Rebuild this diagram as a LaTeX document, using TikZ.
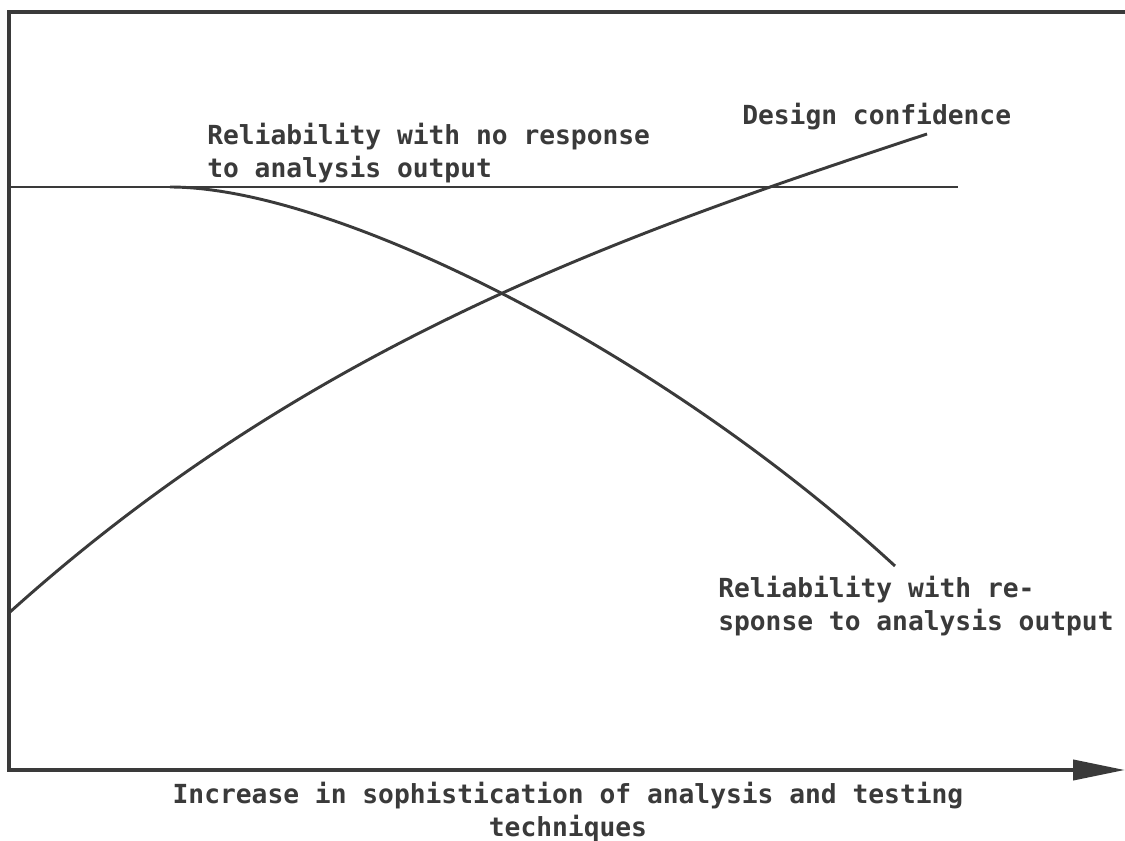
\documentclass[tikz,border=0pt]{standalone}
\usepackage{fontspec}
\setmonofont{DejaVu Sans Mono}
\usetikzlibrary{arrows.meta}
\definecolor{ink}{RGB}{58,58,58}
\tikzset{
  frame/.style={
    line width=3pt,
    draw=ink,
  },
  curve/.style={
    line width=2.2pt,
    draw=ink,
  },
  lbl/.style={
    font=\fontsize{19.7}{24.75}\selectfont\ttfamily\bfseries,
    text=ink,
    inner sep=0pt,
    align=left
  }
}

\begin{document}
\begin{tikzpicture}[x=0.75pt,y=-0.75pt]
        \useasboundingbox (0,0) rectangle (1125,841);
        \coordinate (tl) at (9,12);
        \coordinate (tr) at (1125,12);
        \coordinate (bl) at (9,770);
        \coordinate (br) at (1125,770);
        \coordinate (hL) at (9,187);
        \coordinate (hR) at (958,187);
        \coordinate (nrA) at (170,187);
        \coordinate (nrB) at (895,566);
        \coordinate (dcA) at (10,612);
        \coordinate (dcB) at (927,134);
        \draw[frame, line join=miter, -{Triangle[length=39pt,width=15pt]}] (tr)--(tl)--(bl)--(br);
        \draw[curve] (hL)--(hR);
        \draw[curve] (nrA) .. controls (333,187) and (659,349) .. (nrB);
        \draw[curve] (dcA) .. controls (310,342) and (627,233) .. (dcB);
        \node[lbl, anchor=base west] (noresp) at (207,178) {Reliability with no response\\to analysis output};
        \node[lbl, anchor=base west] (design) at (742,125) {Design confidence};
        \node[lbl, anchor=base west] (resp) at (718,630) {Reliability with re-\\sponse to analysis output};
        \node[lbl, align=center, anchor=base] (xaxis) at (568,836) {Increase in sophistication of analysis and testing\\techniques};
\end{tikzpicture}
\end{document}
